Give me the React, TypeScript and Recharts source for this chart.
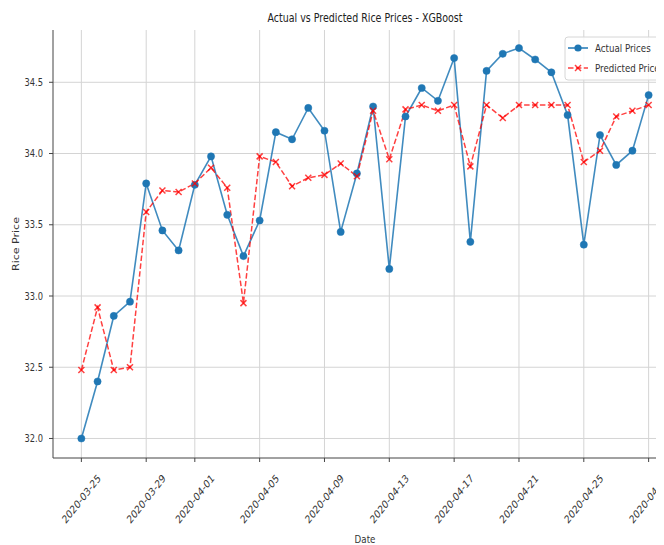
import React from 'react';
import { LineChart, Line, XAxis, YAxis, CartesianGrid, Customized } from 'recharts';

const dates = [
  '2020-03-25', '2020-03-26', '2020-03-27', '2020-03-28', '2020-03-29', '2020-03-30', '2020-03-31',
  '2020-04-01', '2020-04-02', '2020-04-03', '2020-04-04', '2020-04-05', '2020-04-06', '2020-04-07',
  '2020-04-08', '2020-04-09', '2020-04-10', '2020-04-11', '2020-04-12', '2020-04-13', '2020-04-14',
  '2020-04-15', '2020-04-16', '2020-04-17', '2020-04-18', '2020-04-19', '2020-04-20', '2020-04-21',
  '2020-04-22', '2020-04-23', '2020-04-24', '2020-04-25', '2020-04-26', '2020-04-27', '2020-04-28',
  '2020-04-29',
];

const actualPrices = [
  32.0, 32.4, 32.86, 32.96, 33.79, 33.46, 33.32,
  33.78, 33.98, 33.57, 33.28, 33.53, 34.15, 34.1, 34.32, 34.16, 33.45,
  33.86, 34.33, 33.19, 34.26, 34.46, 34.37, 34.67, 33.38, 34.58, 34.7,
  34.74, 34.66, 34.57, 34.27, 33.36, 34.13, 33.92, 34.02, 34.41,
];

const predictedPrices = [
  32.48, 32.92, 32.48, 32.5, 33.59, 33.74, 33.73,
  33.79, 33.9, 33.76, 32.95, 33.98, 33.94, 33.77, 33.83, 33.85, 33.93,
  33.84, 34.3, 33.96, 34.31, 34.34, 34.3, 34.34, 33.91, 34.34, 34.25,
  34.34, 34.34, 34.34, 34.34, 33.94, 34.02, 34.26, 34.3, 34.34,
];

const xTickLabels = [
  '2020-03-25', '2020-03-29', '2020-04-01', '2020-04-05', '2020-04-09',
  '2020-04-13', '2020-04-17', '2020-04-21', '2020-04-25', '2020-04-29',
];

const yTicks = [32.0, 32.5, 33.0, 33.5, 34.0, 34.5];

const DAY = 86400000;
const data = dates.map((d, i) => ({
  t: Date.parse(d),
  actual: actualPrices[i],
  predicted: predictedPrices[i],
}));
const xTicks = xTickLabels.map((d) => Date.parse(d));
const tMin = Date.parse(dates[0]);
const tMax = Date.parse(dates[dates.length - 1]);
const xDomain = [tMin - 1.75 * DAY, tMax + 1.75 * DAY];
const yDomain = [31.863, 34.867];

const FONT = 'DejaVu Sans';
const SQ = 0.79;
const TEXT = '#333';

const fmtDate = (v: number) => new Date(v).toISOString().slice(0, 10);

const XTick = (props: any) => {
  const { x, y, payload } = props;
  return (
    <g transform={`translate(${x},${y + 35}) scale(${SQ},1) rotate(-45)`}>
      <text x={0} y={0} dy="0.35em" textAnchor="middle" fontFamily={FONT} fontSize={11} fill={TEXT}>
        {fmtDate(payload.value)}
      </text>
    </g>
  );
};

const YTick = (props: any) => {
  const { x, y, payload } = props;
  return (
    <g transform={`translate(${x - 4},${y}) scale(${SQ},1)`}>
      <text x={0} y={0} dy="0.35em" textAnchor="end" fontFamily={FONT} fontSize={10.5} fill={TEXT}>
        {Number(payload.value).toFixed(1)}
      </text>
    </g>
  );
};

const ActualDot = (props: any) => {
  const { cx, cy } = props;
  if (cx == null || cy == null) return null;
  return <circle cx={cx} cy={cy} r={3.6} fill="#1f77b4" stroke="#1f77b4" strokeWidth={0.5} />;
};

const PredDot = (props: any) => {
  const { cx, cy } = props;
  if (cx == null || cy == null) return null;
  const s = 3;
  return (
    <g stroke="#ff0000" strokeOpacity={0.75} strokeWidth={1.5}>
      <line x1={cx - s} y1={cy - s} x2={cx + s} y2={cy + s} />
      <line x1={cx - s} y1={cy + s} x2={cx + s} y2={cy - s} />
    </g>
  );
};

const Overlay = () => (
  <g>
    <g transform={`translate(365,18) scale(${SQ},1)`}>
      <text x={0} y={0} dy="0.35em" textAnchor="middle" fontFamily={FONT} fontSize={12} fill="#222">
        Actual vs Predicted Rice Prices - XGBoost
      </text>
    </g>
    <g transform={`translate(365,539) scale(${SQ},1)`}>
      <text x={0} y={0} dy="0.35em" textAnchor="middle" fontFamily={FONT} fontSize={11} fill={TEXT}>
        Date
      </text>
    </g>
    <g transform={`translate(16,244) scale(${SQ},1) rotate(-90)`}>
      <text x={0} y={0} dy="0.35em" textAnchor="middle" fontFamily={FONT} fontSize={11} fill={TEXT}>
        Rice Price
      </text>
    </g>
    <rect x={565} y={37} width={108} height={43} rx={3} fill="#ffffff" fillOpacity={0.85} stroke="#d6d6d6" strokeWidth={1} />
    <line x1={568} y1={48} x2={588} y2={48} stroke="#1f77b4" strokeWidth={1.5} />
    <circle cx={578} cy={48} r={3.6} fill="#1f77b4" />
    <g transform={`translate(595,48) scale(${SQ},1)`}>
      <text x={0} y={0} dy="0.35em" fontFamily={FONT} fontSize={11} fill={TEXT}>
        Actual Prices
      </text>
    </g>
    <line x1={568} y1={68} x2={588} y2={68} stroke="#ff0000" strokeOpacity={0.75} strokeWidth={1.5} strokeDasharray="5.5 2.4" />
    <g stroke="#ff0000" strokeOpacity={0.75} strokeWidth={1.5}>
      <line x1={575} y1={65} x2={581} y2={71} />
      <line x1={575} y1={71} x2={581} y2={65} />
    </g>
    <g transform={`translate(595,68) scale(${SQ},1)`}>
      <text x={0} y={0} dy="0.35em" fontFamily={FONT} fontSize={11} fill={TEXT}>
        Predicted Prices
      </text>
    </g>
  </g>
);

export default function App() {
  return (
    <div style={{ margin: '-8px 0 0 -8px', width: 664, height: 545, overflow: 'hidden', background: '#fff' }}>
      <LineChart
        width={700}
        height={545}
        data={data}
        margin={{ top: 30, right: 23, left: 0, bottom: 0 }}
      >
        <CartesianGrid stroke="#d4d4d4" strokeWidth={1} verticalValues={xTicks} horizontalValues={yTicks} />
        <XAxis
          dataKey="t"
          type="number"
          scale="linear"
          domain={xDomain}
          ticks={xTicks}
          allowDataOverflow
          height={87}
          tick={<XTick />}
          tickSize={4}
          tickLine={{ stroke: '#444' }}
          axisLine={{ stroke: '#444', strokeWidth: 1 }}
          interval={0}
        />
        <XAxis
          xAxisId="top"
          orientation="top"
          dataKey="t"
          type="number"
          domain={xDomain}
          height={0}
          tick={false}
          tickLine={false}
          axisLine={{ stroke: '#444', strokeWidth: 1 }}
        />
        <YAxis
          type="number"
          domain={yDomain}
          ticks={yTicks}
          allowDataOverflow
          width={53}
          tick={<YTick />}
          tickSize={4}
          tickLine={{ stroke: '#444' }}
          axisLine={{ stroke: '#444', strokeWidth: 1 }}
          interval={0}
        />
        <YAxis
          yAxisId="right"
          orientation="right"
          type="number"
          domain={yDomain}
          width={0}
          tick={false}
          tickLine={false}
          axisLine={{ stroke: '#444', strokeWidth: 1 }}
        />
        <Line
          type="linear"
          dataKey="actual"
          stroke="#1f77b4"
          strokeOpacity={0.85}
          strokeWidth={1.6}
          dot={<ActualDot />}
          activeDot={false}
          isAnimationActive={false}
        />
        <Line
          type="linear"
          dataKey="predicted"
          stroke="#ff0000"
          strokeOpacity={0.75}
          strokeWidth={1.5}
          strokeDasharray="5.5 2.4"
          dot={<PredDot />}
          activeDot={false}
          isAnimationActive={false}
        />
        <Customized component={Overlay} />
      </LineChart>
    </div>
  );
}
